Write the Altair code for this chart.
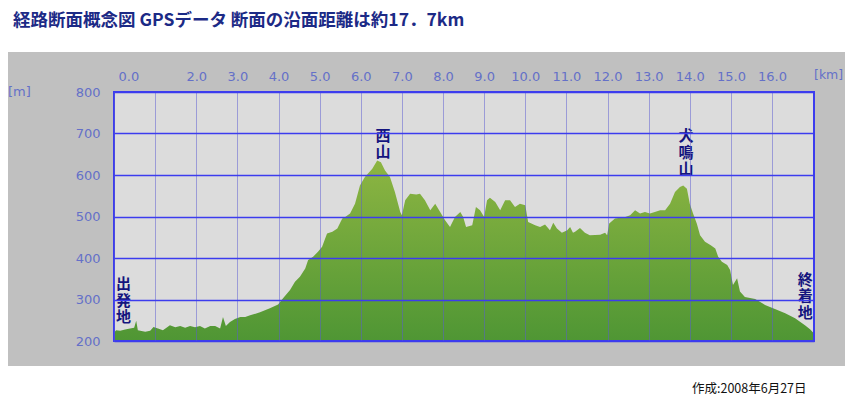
import altair as alt
import pandas as pd

# ---- data ----
km = [0.00, 0.05, 0.15, 0.27, 0.39, 0.49, 0.54, 0.58, 0.76, 0.88, 0.96, 1.07, 1.19,
      1.36, 1.49, 1.61, 1.73, 1.85, 1.97, 2.09, 2.21, 2.34, 2.46, 2.58, 2.65, 2.72,
      2.82, 2.94, 3.07, 3.19, 3.31, 3.55, 3.79, 3.99, 4.11, 4.28, 4.40, 4.52, 4.65,
      4.72, 4.84, 4.96, 5.06, 5.18, 5.31, 5.43, 5.55, 5.62, 5.74, 5.86, 5.98, 6.10,
      6.28, 6.40, 6.49, 6.59, 6.71, 6.83, 6.96, 7.00, 7.08, 7.20, 7.35, 7.44, 7.56,
      7.69, 7.81, 7.93, 8.05, 8.17, 8.29, 8.42, 8.49, 8.56, 8.71, 8.80, 8.90, 9.00,
      9.07, 9.14, 9.27, 9.39, 9.51, 9.63, 9.75, 9.87, 10.00, 10.07, 10.24, 10.36,
      10.48, 10.60, 10.68, 10.77, 10.89, 11.02, 11.09, 11.16, 11.21, 11.33, 11.45,
      11.57, 11.82, 11.94, 11.99, 12.04, 12.18, 12.43, 12.55, 12.67, 12.79, 12.91,
      13.03, 13.15, 13.28, 13.40, 13.52, 13.64, 13.76, 13.84, 13.93, 14.00, 14.08,
      14.17, 14.25, 14.37, 14.51, 14.62, 14.69, 14.78, 14.91, 14.98, 15.05, 15.15,
      15.22, 15.34, 15.59, 15.83, 16.07, 16.32, 16.56, 16.80, 16.93, 17.02]
elev = [220, 226, 225, 228, 230, 232, 249, 226, 222, 225, 234, 230, 226,
        238, 233, 236, 232, 236, 233, 236, 230, 236, 236, 230, 258, 236,
        246, 253, 258, 258, 262, 269, 279, 288, 303, 323, 343, 355, 375,
        395, 403, 415, 427, 459, 463, 471, 495, 499, 507, 531, 575, 595,
        615, 635, 631, 611, 595, 559, 511, 503, 539, 555, 553, 555, 539,
        515, 531, 511, 491, 475, 499, 511, 499, 475, 479, 523, 515, 499,
        539, 545, 535, 515, 539, 539, 523, 531, 527, 487, 479, 475,
        481, 467, 485, 471, 461, 467, 475, 461, 463, 472, 461,
        455, 456, 461, 455, 483, 495, 499, 503, 515, 507, 511,
        507, 511, 515, 515, 531, 559, 571, 575, 567, 531, 507,
        483, 455, 439, 431, 423, 403, 391, 383, 371, 335, 351,
        319, 306, 301, 287, 277, 267, 255, 238, 228, 218]

km_ticks = list(range(0, 17))
elev_ticks = [200, 300, 400, 500, 600, 700, 800]

place_names = ["出発地", "西山", "犬鳴山", "終着地"]
place_km = [0.23, 6.54, 13.91, 16.81]
place_elev = [337, 695, 693, 347]   # elevation of the first character

title_text = "経路断面概念図 GPSデータ 断面の沿面距離は約17．7km"
footer_text = "作成:2008年6月27日"

# ---- layout constants ----
W, H = 700, 249
LABEL_BLUE = "#6470c8"
NAVY = "#14147e"

df = pd.DataFrame({"km": km, "elev": elev})
places = pd.DataFrame({
    "name": ["\n".join(list(n)) for n in place_names],
    "km": place_km,
    "elev": place_elev,
})
one = pd.DataFrame({"a": [0]})

xscale = alt.Scale(domain=[0, 17.02], nice=False, zero=False)
yscale = alt.Scale(domain=[200, 800], nice=False, zero=False)

panel = alt.Chart(one).mark_rect(fill="#c0c0c0").encode(
    x=alt.value(-106), x2=alt.value(731), y=alt.value(-40), y2=alt.value(274))
plotbg = alt.Chart(one).mark_rect(fill="#dcdcdc").encode(
    x=alt.value(0), x2=alt.value(W), y=alt.value(0), y2=alt.value(H))

gradient = alt.Gradient(
    gradient="linear",
    stops=[alt.GradientStop(color="#8db542", offset=0),
           alt.GradientStop(color="#4f9634", offset=1)],
    x1=0, x2=0, y1=0, y2=1)

area = alt.Chart(df).mark_area(color=gradient, interpolate="linear").encode(
    x=alt.X("km:Q", scale=xscale, axis=alt.Axis(
        orient="top", values=km_ticks,
        labelExpr="datum.value == 1 ? '' : format(datum.value, '.1f')",
        grid=True, gridDash=[1, 1], gridColor="#5a5ad2", gridWidth=1,
        ticks=False, domain=False, labelColor=LABEL_BLUE, labelFont="DejaVu Sans",
        labelFontSize=13, labelPadding=12, labelBaseline="alphabetic",
        labelFlush=True, labelFlushOffset=-4, labelOverlap=False,
        title=None, zindex=1)),
    y=alt.Y("elev:Q", scale=yscale, axis=alt.Axis(
        values=elev_ticks, format="d",
        grid=True, gridColor="#3c3cee", gridWidth=1.6,
        ticks=False, domain=False, labelColor=LABEL_BLUE, labelFont="DejaVu Sans",
        labelFontSize=13, labelPadding=14, labelOverlap=False,
        title=None, zindex=1)),
    y2=alt.datum(200),
)

frame = alt.Chart(one).mark_rect(filled=False, stroke="#3c3cee", strokeWidth=2).encode(
    x=alt.value(0), x2=alt.value(W), y=alt.value(0), y2=alt.value(H))

names = alt.Chart(places).mark_text(
    font="Noto Sans CJK JP", fontWeight="bold", fontSize=15, lineBreak="\n",
    lineHeight=16.5, color=NAVY, align="center", baseline="middle").encode(
    x=alt.X("km:Q", scale=xscale), y=alt.Y("elev:Q", scale=yscale), text="name:N")

title = alt.Chart(pd.DataFrame({"t": [title_text]})).mark_text(
    font="Noto Sans CJK JP", fontWeight="bold", fontSize=17.5, color="#1c2a86",
    align="left", baseline="middle").encode(
    x=alt.value(-101), y=alt.value(-71), text="t:N")

m_unit = alt.Chart(pd.DataFrame({"t": ["[m]"]})).mark_text(
    font="DejaVu Sans", fontSize=13, color=LABEL_BLUE, align="left", baseline="middle").encode(
    x=alt.value(-106), y=alt.value(0), text="t:N")
km_unit = alt.Chart(pd.DataFrame({"t": ["[km]"]})).mark_text(
    font="DejaVu Sans", fontSize=12.5, color=LABEL_BLUE, align="left", baseline="middle").encode(
    x=alt.value(700), y=alt.value(-17), text="t:N")

footer = alt.Chart(pd.DataFrame({"t": [footer_text]})).mark_text(
    font="Noto Sans CJK JP", fontSize=12.5, color="#111111", align="left", baseline="middle").encode(
    x=alt.value(578), y=alt.value(297), text="t:N")

chart = alt.layer(panel, plotbg, area, frame, names, title, m_unit, km_unit, footer).properties(
    width=W, height=H,
    autosize=alt.AutoSizeParams(type="none"),
    padding={"left": 106, "top": 84, "right": 31, "bottom": 55},
    background="white",
).configure_view(stroke=None)

chart.save("out.html", embed_options={"renderer": "svg", "actions": False})
